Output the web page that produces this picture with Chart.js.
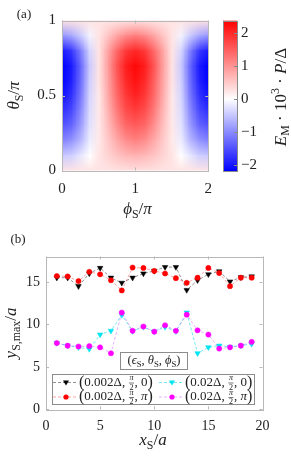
<!DOCTYPE html>
<html>
<head>
<meta charset="utf-8">
<script src="https://cdn.jsdelivr.net/npm/chart.js@4.4.1/dist/chart.umd.min.js"></script>
<style>
  html, body { margin: 0; padding: 0; background: #fff; }
  #wrap { position: relative; width: 291px; height: 458px; overflow: hidden; }
  canvas { position: absolute; }
  #heat { left: 0; top: 0; }
  #cbar { left: 218px; top: 0; }
  #lines { left: 0; top: 225px; }
</style>
</head>
<body>
<div id="wrap">
  <canvas id="heat" width="222" height="225"></canvas>
  <canvas id="cbar" width="73" height="225"></canvas>
  <canvas id="lines" width="291" height="233"></canvas>
</div>
<script>
// (a) heat map: E_M * 10^3 * P / Delta
const phiGrid = [0, 0.125, 0.25, 0.375, 0.5, 0.625, 0.75, 0.875, 1, 1.125, 1.25, 1.375, 1.5, 1.625, 1.75, 1.875, 2];
const thetaGrid = [0, 0.1, 0.2, 0.3, 0.4, 0.5, 0.6, 0.7, 0.8, 0.9, 1];
// one row per theta, columns follow phiGrid
const energyGrid = [
  [0.25, 0.25, 0.25, 0.25, 0.25, 0.25, 0.27, 0.28, 0.3, 0.28, 0.27, 0.25, 0.25, 0.25, 0.25, 0.25, 0.25],
  [-0.45, -0.4, -0.2, 0.0, 0.25, 0.4, 0.55, 0.65, 0.7, 0.65, 0.55, 0.4, 0.25, 0.0, -0.2, -0.4, -0.45],
  [-1.05, -0.9, -0.6, -0.15, 0.2, 0.5, 0.8, 1.05, 1.15, 1.05, 0.8, 0.5, 0.2, -0.15, -0.6, -0.9, -1.05],
  [-1.45, -1.3, -0.85, -0.25, 0.2, 0.6, 1.05, 1.4, 1.5, 1.4, 1.05, 0.6, 0.2, -0.25, -0.85, -1.3, -1.45],
  [-1.75, -1.55, -1.0, -0.3, 0.2, 0.7, 1.25, 1.65, 1.8, 1.65, 1.25, 0.7, 0.2, -0.3, -1.0, -1.55, -1.75],
  [-2.0, -1.75, -1.15, -0.35, 0.2, 0.8, 1.4, 1.85, 2.05, 1.85, 1.4, 0.8, 0.2, -0.35, -1.15, -1.75, -2.0],
  [-2.15, -1.9, -1.25, -0.4, 0.25, 0.85, 1.5, 2.0, 2.2, 2.0, 1.5, 0.85, 0.25, -0.4, -1.25, -1.9, -2.15],
  [-2.2, -1.95, -1.3, -0.45, 0.25, 0.9, 1.6, 2.1, 2.3, 2.1, 1.6, 0.9, 0.25, -0.45, -1.3, -1.95, -2.2],
  [-1.95, -1.7, -1.1, -0.35, 0.25, 0.85, 1.4, 1.85, 2.0, 1.85, 1.4, 0.85, 0.25, -0.35, -1.1, -1.7, -1.95],
  [-0.9, -0.75, -0.45, -0.1, 0.25, 0.55, 0.85, 1.1, 1.2, 1.1, 0.85, 0.55, 0.25, -0.1, -0.45, -0.75, -0.9],
  [0.25, 0.25, 0.25, 0.25, 0.25, 0.25, 0.27, 0.28, 0.3, 0.28, 0.27, 0.25, 0.25, 0.25, 0.25, 0.25, 0.25]
];
const colorMin = -2.17;
const colorMax = 2.37;
const colorTicks = [-2, -1, 0, 1, 2];
const phiTicks = [0, 1, 2];
const thetaTicks = [0, 0.5, 1];

// (b) y_S,max / a against x_S / a
const xPositions = [1, 2, 3, 4, 5, 6, 7, 8, 9, 10, 11, 12, 13, 14, 15, 16, 17, 18, 19];
const yWeakZero = [15.5, 15.5, 14.5, 16.0, 16.65, 15.5, 14.9, 15.5, 16.0, 16.3, 16.75, 16.75, 14.05, 15.2, 15.9, 16.25, 15.05, 15.55, 15.65];
const yWeakPi = [15.7, 15.65, 15.1, 16.2, 15.9, 15.2, 14.0, 16.7, 16.65, 16.3, 16.0, 15.45, 14.9, 15.5, 16.65, 16.05, 14.5, 15.5, 15.5];
const yStrongZero = [7.8, 7.5, 7.3, 7.1, 8.8, 9.25, 11.1, 9.2, 9.7, 9.15, 9.7, 9.2, 11.4, 6.6, 7.3, 7.5, 7.35, 7.5, 7.7];
const yStrongPi = [7.8, 7.5, 7.4, 7.45, 7.3, 6.6, 11.4, 9.25, 9.75, 9.15, 9.9, 9.25, 11.15, 9.3, 8.8, 7.15, 7.3, 7.5, 7.95];
const xTicksB = [0, 5, 10, 15, 20];
const yTicksB = [0, 5, 10, 15];

const SERIF = '"Liberation Serif", "DejaVu Serif", serif';
const TEXT = '#222';
const BOX = '#b8b8b8';

function minus(v) {
  return String(v).replace('-', '\u2212');
}

// red / white / blue map, white at zero
function energyColor(v) {
  if (v >= 0) {
    const t = Math.min(v / colorMax, 1);
    return [255, Math.round(255 * (1 - t)), Math.round(255 * (1 - t))];
  }
  const t = Math.min(v / colorMin, 1);
  return [Math.round(255 * (1 - t)), Math.round(255 * (1 - t)), 255];
}

// small math typesetter: runs of {t, i (italic), s ('sub'|'sup'), size, frac:[num, den]}
function layoutRuns(ctx, runs, size) {
  return runs.map(r => {
    if (r.frac) {
      const fs = size * 0.62;
      ctx.font = 'italic ' + fs + 'px ' + SERIF;
      const w = Math.max(ctx.measureText(r.frac[0]).width, ctx.measureText(r.frac[1]).width) + 2;
      return { frac: r.frac, fs, w };
    }
    const fs = r.size || (r.s ? size * 0.7 : size);
    const font = (r.i ? 'italic ' : '') + fs + 'px ' + SERIF;
    ctx.font = font;
    const dy = r.s === 'sub' ? size * 0.28 : r.s === 'sup' ? -size * 0.35 : 0;
    return { t: r.t, font, w: ctx.measureText(r.t).width, dy };
  });
}

function drawMath(ctx, runs, x, y, size, opts) {
  opts = opts || {};
  ctx.save();
  ctx.translate(x, y);
  if (opts.rot) ctx.rotate(opts.rot);
  const items = layoutRuns(ctx, runs, size);
  const total = items.reduce((a, b) => a + b.w, 0);
  let cx = opts.align === 'left' ? 0 : -total / 2;
  ctx.textBaseline = 'middle';
  ctx.textAlign = 'left';
  ctx.fillStyle = TEXT;
  ctx.strokeStyle = TEXT;
  items.forEach(it => {
    if (it.frac) {
      ctx.font = 'italic ' + it.fs + 'px ' + SERIF;
      ctx.textAlign = 'center';
      ctx.fillText(it.frac[0], cx + it.w / 2, -it.fs * 0.55);
      ctx.font = it.fs + 'px ' + SERIF;
      ctx.fillText(it.frac[1], cx + it.w / 2, it.fs * 0.62);
      ctx.textAlign = 'left';
      ctx.lineWidth = 0.6;
      ctx.beginPath();
      ctx.moveTo(cx + 0.5, 0.5);
      ctx.lineTo(cx + it.w - 0.5, 0.5);
      ctx.stroke();
    } else {
      ctx.font = it.font;
      ctx.fillText(it.t, cx, it.dy);
    }
    cx += it.w;
  });
  ctx.restore();
}

// gray box with inward ticks on all four sides
function drawFrame(chart, xTicks, yTicks, len) {
  const { ctx, chartArea: a, scales: { x, y } } = chart;
  ctx.save();
  ctx.strokeStyle = BOX;
  ctx.lineWidth = 1;
  ctx.strokeRect(Math.round(a.left) + 0.5, Math.round(a.top) + 0.5, Math.round(a.right - a.left), Math.round(a.bottom - a.top));
  ctx.beginPath();
  xTicks.forEach(v => {
    const px = Math.round(x.getPixelForValue(v)) + 0.5;
    ctx.moveTo(px, a.bottom); ctx.lineTo(px, a.bottom - len);
    ctx.moveTo(px, a.top); ctx.lineTo(px, a.top + len);
  });
  yTicks.forEach(v => {
    const py = Math.round(y.getPixelForValue(v)) + 0.5;
    ctx.moveTo(a.left, py); ctx.lineTo(a.left + len, py);
    ctx.moveTo(a.right, py); ctx.lineTo(a.right - len, py);
  });
  ctx.stroke();
  ctx.restore();
}

function fixedTicks(values) {
  return scale => { scale.ticks = values.map(v => ({ value: v })); };
}

// ---------- panel (a) ----------
const cellPoints = [];
thetaGrid.forEach((t, j) => phiGrid.forEach((p, i) => cellPoints.push({ x: p, y: t, v: energyGrid[j][i] })));

const heatPlugin = {
  id: 'heatmap',
  beforeDatasetsDraw(chart) {
    const { ctx, chartArea: a, scales: { x, y } } = chart;
    const nx = phiGrid.length, ny = thetaGrid.length;
    const off = document.createElement('canvas');
    off.width = nx; off.height = ny;
    const octx = off.getContext('2d');
    const img = octx.createImageData(nx, ny);
    for (let j = 0; j < ny; j++) {
      for (let i = 0; i < nx; i++) {
        const c = energyColor(energyGrid[j][i]);
        const k = ((ny - 1 - j) * nx + i) * 4;
        img.data[k] = c[0]; img.data[k + 1] = c[1]; img.data[k + 2] = c[2]; img.data[k + 3] = 255;
      }
    }
    octx.putImageData(img, 0, 0);
    const hx = (phiGrid[1] - phiGrid[0]) / 2, hy = (thetaGrid[1] - thetaGrid[0]) / 2;
    const left = x.getPixelForValue(phiGrid[0] - hx);
    const right = x.getPixelForValue(phiGrid[nx - 1] + hx);
    const top = y.getPixelForValue(thetaGrid[ny - 1] + hy);
    const bottom = y.getPixelForValue(thetaGrid[0] - hy);
    ctx.save();
    ctx.beginPath();
    ctx.rect(a.left, a.top, a.right - a.left, a.bottom - a.top);
    ctx.clip();
    ctx.imageSmoothingEnabled = true;
    ctx.drawImage(off, left, top, right - left, bottom - top);
    ctx.restore();
  },
  afterDraw(chart) {
    drawFrame(chart, phiTicks, thetaTicks, 3);
    const ctx = chart.ctx;
    drawMath(ctx, [{ t: 'θ', i: true }, { t: 'S', s: 'sub' }, { t: '/' }, { t: 'π', i: true }], 15, 95.5, 17, { rot: -Math.PI / 2 });
    drawMath(ctx, [{ t: 'ϕ', i: true }, { t: 'S', s: 'sub' }, { t: '/' }, { t: 'π', i: true }], 137.5, 210, 17);
    drawMath(ctx, [{ t: '(a)' }], 24, 15, 13);
  }
};

new Chart(document.getElementById('heat'), {
  type: 'scatter',
  data: { datasets: [{ data: cellPoints, pointRadius: 0, pointHoverRadius: 0 }] },
  options: {
    responsive: false,
    animation: false,
    events: [],
    layout: { padding: { top: 20.5, right: 9, left: 0, bottom: 0 } },
    plugins: { legend: { display: false }, tooltip: { enabled: false } },
    scales: {
      x: {
        type: 'linear', min: 0, max: 2,
        afterBuildTicks: fixedTicks(phiTicks),
        afterFit: s => { s.height = 54.5; },
        grid: { display: false, drawTicks: false },
        border: { display: false },
        ticks: { color: TEXT, font: { family: SERIF, size: 15 }, padding: 10, maxRotation: 0, callback: v => minus(v) }
      },
      y: {
        type: 'linear', min: 0, max: 1,
        afterBuildTicks: fixedTicks(thetaTicks),
        afterFit: s => { s.width = 62; },
        grid: { display: false, drawTicks: false },
        border: { display: false },
        ticks: { color: TEXT, font: { family: SERIF, size: 15 }, padding: 6, callback: v => minus(v) }
      }
    }
  },
  plugins: [heatPlugin]
});

// ---------- colour bar ----------
const colorBarPlugin = {
  id: 'colorbar',
  beforeDatasetsDraw(chart) {
    const { ctx, chartArea: a, scales: { y } } = chart;
    const yTop = y.getPixelForValue(colorMax);
    const yBot = y.getPixelForValue(colorMin);
    const g = ctx.createLinearGradient(0, yBot, 0, yTop);
    const stop = v => (y.getPixelForValue(v) - yBot) / (yTop - yBot);
    [colorMin, 0, colorMax].forEach(v => {
      const c = energyColor(v);
      g.addColorStop(stop(v), 'rgb(' + c.join(',') + ')');
    });
    ctx.save();
    ctx.fillStyle = g;
    ctx.fillRect(a.left, yTop, a.right - a.left, yBot - yTop);
    ctx.restore();
  },
  afterDraw(chart) {
    const { ctx, chartArea: a, scales: { y } } = chart;
    ctx.save();
    ctx.strokeStyle = '#8a8a8a';
    ctx.lineWidth = 1;
    ctx.strokeRect(Math.round(a.left) + 0.5, Math.round(a.top) + 0.5, Math.round(a.right - a.left), Math.round(a.bottom - a.top));
    ctx.beginPath();
    colorTicks.forEach(v => {
      const py = Math.round(y.getPixelForValue(v)) + 0.5;
      ctx.moveTo(a.right, py); ctx.lineTo(a.right - 3, py);
    });
    ctx.stroke();
    ctx.restore();
    drawMath(ctx, [
      { t: 'E', i: true }, { t: 'M', s: 'sub' }, { t: ' · 10' }, { t: '3', s: 'sup' },
      { t: ' · ' }, { t: 'P', i: true }, { t: '/Δ' }
    ], 63.5, 97, 17, { rot: -Math.PI / 2 });
  }
};

new Chart(document.getElementById('cbar'), {
  type: 'scatter',
  data: { datasets: [{ data: [colorMin, 0, colorMax].map(v => ({ x: 0.5, y: v })), pointRadius: 0, pointHoverRadius: 0 }] },
  options: {
    responsive: false,
    animation: false,
    events: [],
    layout: { padding: { top: 20.7, right: 0, left: 5, bottom: 54 } },
    plugins: { legend: { display: false }, tooltip: { enabled: false } },
    scales: {
      x: { type: 'linear', min: 0, max: 1, display: false },
      y: {
        type: 'linear', position: 'right', min: colorMin, max: colorMax,
        afterBuildTicks: fixedTicks(colorTicks),
        afterFit: s => { s.width = 54; },
        grid: { display: false, drawTicks: false },
        border: { display: false },
        ticks: { color: TEXT, font: { family: SERIF, size: 15 }, padding: 4, callback: v => minus(v) }
      }
    }
  },
  plugins: [colorBarPlugin]
});

// ---------- panel (b) ----------
const seriesB = [
  { values: yWeakZero, color: '#000000', line: 'rgba(0,0,0,0.55)', style: 'triangle', label: ['0.002Δ, ', '0'] },
  { values: yWeakPi, color: '#ff0000', line: 'rgba(255,0,0,0.45)', style: 'circle', label: ['0.002Δ, ', 'π'] },
  { values: yStrongZero, color: '#00e5f0', line: 'rgba(0,215,230,0.7)', style: 'triangle', label: ['0.02Δ, ', '0'] },
  { values: yStrongPi, color: '#ff00ff', line: 'rgba(190,60,255,0.5)', style: 'circle', label: ['0.02Δ, ', 'π'] }
];

function drawMarker(ctx, s, x, y) {
  ctx.save();
  ctx.fillStyle = s.color;
  ctx.beginPath();
  if (s.style === 'circle') {
    ctx.arc(x, y, 2.6, 0, Math.PI * 2);
  } else {
    ctx.moveTo(x - 3, y - 2);
    ctx.lineTo(x + 3, y - 2);
    ctx.lineTo(x, y + 3);
    ctx.closePath();
  }
  ctx.fill();
  ctx.restore();
}

const legendPlugin = {
  id: 'boxLegend',
  afterDraw(chart) {
    drawFrame(chart, xTicksB, yTicksB, 3);
    const ctx = chart.ctx;
    drawMath(ctx, [{ t: 'y', i: true }, { t: 'S,max', s: 'sub' }, { t: '/' }, { t: 'a', i: true }], 12, 108, 17, { rot: -Math.PI / 2 });
    drawMath(ctx, [{ t: 'x', i: true }, { t: 'S', s: 'sub' }, { t: '/' }, { t: 'a', i: true }], 153, 216, 17);
    drawMath(ctx, [{ t: '(b)' }], 18, 15, 13);

    ctx.save();
    ctx.fillStyle = '#fff';
    ctx.strokeStyle = '#8c8c8c';
    ctx.lineWidth = 1;
    ctx.fillRect(120.5, 127.5, 67, 17);
    ctx.strokeRect(120.5, 127.5, 67, 17);
    ctx.fillRect(52.5, 149.5, 202, 30);
    ctx.strokeRect(52.5, 149.5, 202, 30);
    ctx.restore();
    drawMath(ctx, [
      { t: '(' }, { t: 'ϵ', i: true }, { t: 'S', s: 'sub' }, { t: ', ' }, { t: 'θ', i: true }, { t: 'S', s: 'sub' },
      { t: ', ' }, { t: 'ϕ', i: true }, { t: 'S', s: 'sub' }, { t: ')' }
    ], 154, 136, 12.5);

    const cols = [53, 159];
    const rows = [157.5, 172];
    seriesB.forEach((s, k) => {
      const cx = cols[Math.floor(k / 2)], cy = rows[k % 2];
      ctx.save();
      ctx.strokeStyle = s.line;
      ctx.lineWidth = 0.8;
      ctx.setLineDash([3, 2]);
      ctx.beginPath();
      ctx.moveTo(cx, cy); ctx.lineTo(cx + 25, cy);
      ctx.stroke();
      ctx.restore();
      drawMarker(ctx, s, cx + 13, cy);
      drawMath(ctx, [
        { t: '(', size: 16 }, { t: s.label[0] }, { frac: ['π', '2'] }, { t: ', ' },
        { t: s.label[1], i: s.label[1] === 'π' }, { t: ')', size: 16 }
      ], cx + 26, cy, 13, { align: 'left' });
    });
  }
};

new Chart(document.getElementById('lines'), {
  type: 'scatter',
  data: {
    datasets: seriesB.map((s, k) => ({
      data: xPositions.map((x, i) => ({ x, y: s.values[i] })),
      showLine: true,
      borderColor: s.line,
      borderWidth: 0.8,
      borderDash: [3, 2],
      pointStyle: s.style,
      pointRotation: s.style === 'triangle' ? 180 : 0,
      pointRadius: s.style === 'triangle' ? 3.2 : 2.6,
      pointBackgroundColor: s.color,
      pointBorderColor: s.color,
      pointBorderWidth: 0.5,
      order: 4 - k
    }))
  },
  options: {
    responsive: false,
    animation: false,
    events: [],
    layout: { padding: { top: 31.5, right: 28.5, left: 0, bottom: 0 } },
    plugins: { legend: { display: false }, tooltip: { enabled: false } },
    scales: {
      x: {
        type: 'linear', min: 0, max: 20,
        afterBuildTicks: fixedTicks(xTicksB),
        afterFit: s => { s.height = 48.7; },
        grid: { display: false, drawTicks: false },
        border: { display: false },
        ticks: { color: TEXT, font: { family: SERIF, size: 14 }, padding: 9, maxRotation: 0, callback: v => minus(v) }
      },
      y: {
        type: 'linear', min: 0, max: 18,
        afterBuildTicks: fixedTicks(yTicksB),
        afterFit: s => { s.width = 46; },
        grid: { display: false, drawTicks: false },
        border: { display: false },
        ticks: { color: TEXT, font: { family: SERIF, size: 14 }, padding: 6, callback: v => minus(v) }
      }
    }
  },
  plugins: [legendPlugin]
});
</script>
</body>
</html>
